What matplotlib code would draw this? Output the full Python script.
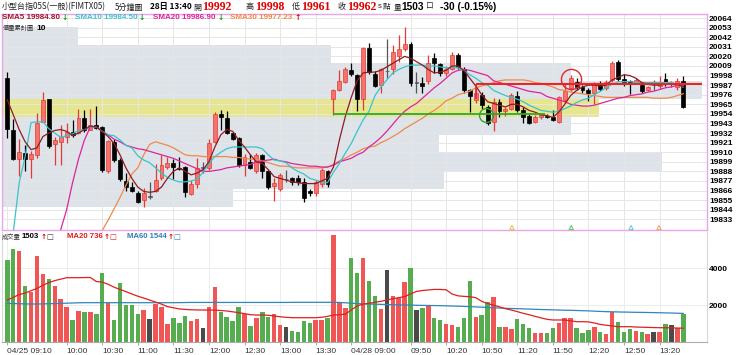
import numpy as np
import matplotlib
matplotlib.use("Agg")
import matplotlib.pyplot as plt

# ---- data (5 min bars, 04/25 09:10 .. 04/28 13:40) ----
opens = [19995, 19936, 19902, 19909, 19902, 19907, 19945, 19971, 19919, 19922,
         19928, 19933, 19932, 19949, 19936, 19941, 19939, 19888, 19922, 19901,
         19877, 19870, 19863, 19855, 19859, 19865, 19880, 19893, 19898, 19892,
         19893, 19862, 19874, 19892, 19892, 19922, 19954, 19949, 19932, 19926,
         19895, 19899, 19889, 19907, 19888, 19871, 19868, 19879, 19880, 19880,
         19876, 19866, 19863, 19873, 19888, 19971, 19981, 19991, 20004, 19999,
         19971, 20030, 20000, 19987, 20003, 20006, 20020, 20028, 20034, 19990,
         19990, 19992, 20018, 20011, 20001, 20006, 20022, 20006, 19981, 19970,
         19976, 19962, 19945, 19968, 19957, 19960, 19974, 19959, 19952, 19945,
         19950, 19952, 19951, 19945, 19970, 19984, 19991, 19985, 19981, 19978,
         19987, 19984, 19993, 20014, 19994, 19992, 19990, 19987, 19982, 19988,
         19986, 19994, 19988, 19985, 19992]
highs = [20002, 19948, 19925, 19918, 19911, 19955, 19979, 19971, 19928, 19941,
         19944, 19947, 19960, 19958, 19960, 19963, 19940, 19924, 19925, 19903,
         19886, 19876, 19866, 19869, 19876, 19897, 19907, 19905, 19902, 19905,
         19894, 19878, 19903, 19899, 19925, 19956, 19959, 19957, 19933, 19927,
         19908, 19908, 19909, 19908, 19890, 19880, 19886, 19890, 19882, 19884,
         19880, 19868, 19878, 19892, 19890, 19983, 20004, 20008, 20012, 20000,
         20031, 20035, 20003, 20007, 20040, 20033, 20045, 20054, 20036, 20002,
         19996, 20022, 20024, 20013, 20009, 20025, 20024, 20008, 19983, 19988,
         19979, 19964, 19972, 19971, 19962, 19978, 19980, 19962, 19954, 19953,
         19955, 19954, 19958, 19975, 19990, 19999, 19995, 19987, 19984, 19991,
         19992, 19993, 20015, 20016, 20000, 19993, 19995, 19989, 19986, 19993,
         19997, 20001, 19992, 19995, 19998]
lows = [19926, 19901, 19883, 19888, 19880, 19903, 19945, 19915, 19895, 19895,
        19921, 19928, 19931, 19933, 19935, 19937, 19887, 19886, 19899, 19877,
        19865, 19864, 19852, 19847, 19856, 19864, 19878, 19891, 19879, 19890,
        19859, 19861, 19869, 19886, 19890, 19921, 19936, 19931, 19924, 19893,
        19883, 19891, 19886, 19880, 19868, 19854, 19866, 19876, 19872, 19872,
        19853, 19860, 19860, 19870, 19870, 19953, 19980, 19990, 19998, 19957,
        19959, 20000, 19985, 19978, 19995, 20000, 20014, 20026, 19986, 19978,
        19978, 19988, 20001, 19997, 19998, 20004, 20006, 19978, 19956, 19967,
        19960, 19941, 19934, 19950, 19952, 19958, 19956, 19943, 19942, 19943,
        19948, 19949, 19946, 19944, 19968, 19980, 19982, 19978, 19969, 19965,
        19980, 19982, 19991, 19992, 19986, 19977, 19988, 19978, 19980, 19981,
        19983, 19986, 19985, 19982, 19961]
closes = [19937, 19902, 19910, 19902, 19908, 19943, 19970, 19917, 19924, 19928,
          19933, 19930, 19949, 19935, 19941, 19938, 19890, 19923, 19901, 19879,
          19870, 19865, 19853, 19863, 19859, 19878, 19895, 19898, 19893, 19891,
          19864, 19874, 19892, 19892, 19921, 19954, 19951, 19932, 19925, 19895,
          19904, 19892, 19907, 19888, 19870, 19875, 19884, 19879, 19876, 19876,
          19857, 19863, 19876, 19890, 19874, 19982, 19992, 20005, 20000, 19971,
          20030, 20002, 19986, 20006, 20003, 20025, 20028, 20034, 19989, 19990,
          19986, 20013, 20012, 20001, 20006, 20022, 20008, 19981, 19975, 19978,
          19964, 19943, 19968, 19957, 19960, 19976, 19958, 19951, 19944, 19951,
          19953, 19950, 19947, 19973, 19980, 19995, 19985, 19981, 19978, 19989,
          19983, 19991, 20013, 19994, 19991, 19990, 19993, 19980, 19985, 19988,
          19989, 19989, 19988, 19992, 19962]
volumes = [4453, 5052, 4943, 3036, 2725, 4671, 3706, 3400, 3036, 2327,
           1875, 1183, 1690, 1602, 1602, 1510, 3761, 2126, 1183, 3216,
           2000, 2000, 1510, 1727, 1237, 2038, 1908, 948, 1308, 1036,
           1401, 1145, 1254, 763, 1875, 2965, 1635, 1330, 1112, 1908,
           1493, 839, 1275, 1602, 1346, 1493, 910, 785, 583, 529,
           1128, 1036, 1166, 1183, 1275, 5815, 2180, 1820, 4578, 3728,
           4545, 3308, 2490, 1766, 3908, 2507, 2365, 3270, 4000, 1727,
           1853, 2000, 1308, 1166, 981, 910, 818, 1308, 3308, 1346,
           1455, 2147, 2453, 818, 818, 692, 1221, 981, 763, 458,
           458, 458, 730, 1003, 1275, 1275, 763, 458, 640, 818,
           545, 400, 1602, 1090, 545, 692, 583, 545, 400, 512,
           512, 964, 910, 763, 1503]

nan = np.nan
sma5 = [19970, 19953, 19936, 19922, 19913, 19915, 19928, 19932, 19935, 19936,
        19934, 19929, 19932, 19936, 19940, 19939, 19934, 19928, 19920, 19907,
        19892, 19880, 19870, 19865, 19864, 19865, 19870, 19880, 19888, 19892,
        19888, 19884, 19886, 19890, 19899, 19916, 19930, 19936, 19934, 19924,
        19916, 19907, 19899, 19897, 19890, 19882, 19880, 19878, 19876, 19875,
        19874, 19874, 19874, 19877, 19880, 19893, 19924, 19951, 19973, 19992,
        20001, 20002, 20002, 20004, 20008, 20012, 20016, 20020, 20018, 20014,
        20010, 20005, 20001, 20002, 20004, 20009, 20009, 20004, 19995, 19986,
        19976, 19968, 19966, 19964, 19962, 19965, 19965, 19962, 19958, 19956,
        19953, 19952, 19950, 19956, 19965, 19975, 19981, 19985, 19987, 19987,
        19986, 19987, 19993, 19996, 19999, 19998, 19995, 19990, 19988, 19987,
        19987, 19988, 19988, 19988, 19984.8]
sma10 = [19790, 19818, 19875, 19905, 19944, 19945, 19945, 19937, 19932, 19927,
         19929, 19931, 19935, 19936, 19939, 19939, 19934, 19930, 19929, 19924,
         19918, 19915, 19906, 19901, 19898, 19892, 19886, 19881, 19878, 19876,
         19876, 19877, 19879, 19887, 19897, 19905, 19910, 19914, 19916, 19916,
         19916, 19916, 19916, 19914, 19907, 19901, 19900, 19898, 19892, 19888,
         19885, 19880, 19878, 19876, 19875, 19887, 19897, 19909, 19920, 19934,
         19947, 19957, 19975, 19985, 19993, 20001, 20005, 20008, 20010, 20010,
         20010, 20009, 20009, 20008, 20007, 20007, 20007, 20004, 19999, 19995,
         19990, 19987, 19981, 19978, 19975, 19973, 19971, 19968, 19964, 19961,
         19958, 19957, 19956, 19957, 19960, 19963, 19967, 19970, 19972, 19976,
         19980, 19984, 19988, 19991, 19991, 19991, 19990, 19990, 19990, 19990,
         19990, 19990, 19990, 19988, 19984.5]
sma20 = [nan, nan, nan, nan, nan, nan, nan, nan, 19790, 19821,
         19844, 19875, 19902, 19924, 19939, 19939, 19934, 19930, 19925, 19922,
         19918, 19916, 19914, 19913, 19911, 19909, 19907, 19905, 19903, 19900,
         19897, 19894, 19891, 19888, 19888, 19889, 19890, 19892, 19893, 19894,
         19895, 19896, 19899, 19900, 19901, 19902, 19900, 19899, 19897, 19896,
         19895, 19894, 19894, 19893, 19893, 19895, 19899, 19901, 19903, 19907,
         19910, 19916, 19921, 19927, 19934, 19942, 19950, 19957, 19962, 19966,
         19972, 19978, 19984, 19989, 19995, 20001, 20004, 20005, 20004, 20002,
         20000, 19998, 19992, 19990, 19988, 19986, 19984, 19982, 19980, 19979,
         19978, 19974, 19972, 19970, 19968, 19965, 19964, 19963, 19963, 19964,
         19966, 19968, 19970, 19972, 19973, 19975, 19976, 19977, 19979, 19980,
         19982, 19984, 19985, 19987, 19986.9]
sma30 = [nan, nan, nan, nan, nan, nan, nan, nan, nan, nan,
         nan, nan, nan, nan, nan, nan, 19820, 19832, 19845, 19858,
         19872, 19885, 19892, 19907, 19919, 19922, 19920, 19918, 19915, 19911,
         19907, 19906, 19906, 19905, 19905, 19905, 19905, 19905, 19904, 19904,
         19903, 19902, 19902, 19900, 19898, 19896, 19894, 19894, 19893, 19892,
         19892, 19892, 19892, 19892, 19893, 19896, 19900, 19903, 19907, 19910,
         19914, 19916, 19917, 19921, 19924, 19928, 19932, 19937, 19941, 19945,
         19949, 19954, 19958, 19963, 19969, 19972, 19976, 19978, 19980, 19984,
         19986, 19988, 19990, 19992, 19993, 19993, 19993, 19993, 19992, 19990,
         19989, 19987, 19985, 19982, 19981, 19979, 19978, 19977, 19976, 19975,
         19974, 19973, 19973, 19973, 19973, 19973, 19973, 19973, 19973, 19972,
         19972, 19972, 19973, 19975, 19977.23]
vol_ma20 = [2273, 2420, 2570, 2650, 2780, 2900, 3080, 3220, 3330, 3410,
            3488, 3488, 3490, 3495, 3500, 3280, 3250, 3130, 2970, 2850,
            2730, 2600, 2480, 2380, 2270, 2160, 2050, 1910, 1850, 1785,
            1760, 1740, 1730, 1727, 1727, 1720, 1700, 1675, 1630, 1582,
            1530, 1470, 1455, 1455, 1440, 1400, 1360, 1330, 1310, 1308,
            1308, 1308, 1308, 1330, 1380, 1455, 1470, 1500, 1727, 1950,
            2050, 2093, 2150, 2200, 2273, 2340, 2400, 2460, 2600, 2740,
            2790, 2820, 2850, 2850, 2830, 2600, 2500, 2470, 2453, 2400,
            2200, 2080, 1990, 1900, 1800, 1727, 1640, 1548, 1470, 1380,
            1300, 1220, 1183, 1183, 1183, 1140, 1090, 1090, 1080, 1020,
            940, 900, 860, 818, 818, 818, 800, 790, 780, 770,
            763, 760, 755, 745, 736]
vol_ma60 = [2093, 2080, 2070, 2060, 2055, 2055, 2060, 2070, 2080, 2090,
            2100, 2110, 2120, 2126, 2126, 2126, 2126, 2126, 2126, 2126,
            2126, 2126, 2126, 2126, 2126, 2126, 2126, 2126, 2126, 2130,
            2135, 2140, 2140, 2140, 2140, 2140, 2140, 2140, 2140, 2140,
            2140, 2140, 2140, 2140, 2140, 2140, 2140, 2140, 2145, 2147,
            2147, 2147, 2147, 2147, 2147, 2147, 2140, 2120, 2100, 2080,
            2060, 2055, 2045, 2035, 2025, 2015, 2005, 2000, 1995, 1985,
            1980, 1975, 1970, 1962, 1955, 1945, 1935, 1925, 1908, 1895,
            1880, 1865, 1850, 1835, 1820, 1810, 1800, 1790, 1778, 1766,
            1755, 1745, 1735, 1725, 1715, 1711, 1700, 1690, 1680, 1665,
            1650, 1638, 1630, 1622, 1615, 1608, 1602, 1598, 1592, 1585,
            1578, 1570, 1562, 1553, 1544]

# volume-at-price profile ("價量累計圖 10"): 10 price bins, length in bars
profile_edges = [19847, 19868, 19889, 19909, 19930, 19951,
                 19971, 19992, 20013, 20033, 20054]
profile_len = [39.0, 74.6, 111.3, 73.7, 96.0, 100.7, 118.1, 96.0, 55.5, 12.8]

tick_pos = [0, 10, 16, 22, 28, 34, 40, 46, 52, 58, 68, 74, 80, 86, 92, 98, 104, 110]
tick_labels = ["04/25 09:10", "10:00", "10:30", "11:00", "11:30", "12:00", "12:30",
               "13:00", "13:30", "04/28 09:00", "09:50", "10:20", "10:50", "11:20",
               "11:50", "12:20", "12:50", "13:20"]
price_ticks = [20064, 20053, 20042, 20031, 20020, 20009, 19998, 19987, 19976, 19965,
               19954, 19943, 19932, 19921, 19910, 19899, 19888, 19877, 19866, 19855,
               19844, 19833]

# drawn annotations
support = (55, 90.7, 19953.5)       # green line: from bar, to bar, price
resist = (79, 117.2, 19988, 19971)  # red line: from bar, to bar, price, foot
green_ring = (80.7, 19952.7)
red_ring = (95.0, 19994)
signal_x = [85.1, 95.1, 105.2, 109.9]
signal_colors = ["#e2c23a", "#5cc45c", "#66cccc", "#f0a060"]

# ---- styling ----
W, H = 740, 355
CJK = ["Noto Sans CJK TC", "DejaVu Sans"]
SANS = "Liberation Sans"
PINK = "#e9a6e9"
RED_FILL, RED_EDGE = "#f4736d", "#e23b34"
GREEN_V, RED_V, GRAY_V = "#56ad4f", "#f05656", "#4a4a4a"

fig = plt.figure(figsize=(W / 100, H / 100), dpi=100)


def fx(px):
    return px / W


def fy(py):
    return 1 - py / H


ax = fig.add_axes([fx(2), fy(230), fx(705), (230 - 14) / H])
axv = fig.add_axes([fx(2), fy(341.7), fx(705), (341.7 - 232) / H])

x = np.arange(len(closes))
o, hi, lo, c = map(np.array, (opens, highs, lows, closes))
up, down = c > o, c < o

# profile bands behind everything
edges = np.array(profile_edges)
cur_bin = np.searchsorted(edges, c[-1]) - 1
band_cols = ["#e6e68e" if i == cur_bin else "#dde3e8" for i in range(len(profile_len))]
x0 = -0.9
ax.barh(edges[:-1], profile_len, left=x0, height=np.diff(edges), align="edge",
        color=band_cols, zorder=0.2, lw=0)

# candles
body_col = np.where(up, RED_FILL, np.where(down, "black", "#555555"))
edge_col = np.where(up, RED_EDGE, np.where(down, "black", "#555555"))
ax.vlines(x, lo, hi, colors=edge_col, lw=0.9, zorder=3)
ax.bar(x, np.maximum(np.abs(c - o), 0.7), bottom=np.minimum(o, c), width=0.66,
       color=body_col, edgecolor=edge_col, lw=0.5, zorder=4)

# moving averages
ax.plot(x, sma30, color="#ef8a4c", lw=0.9, zorder=5)
ax.plot(x, sma20, color="#de249c", lw=0.9, zorder=5)
ax.plot(x, sma10, color="#38c4cc", lw=0.9, zorder=5)
ax.plot(x, sma5, color="#8e1c22", lw=0.9, zorder=6)

# support / resistance marks
ax.hlines(support[2], support[0], support[1], color="#2ea82e", lw=1.3, zorder=7)
ax.hlines(resist[2], resist[0], resist[1], color="#e8262a", lw=1.5, zorder=7)
ax.vlines(resist[0], resist[3], resist[2], color="#e8262a", lw=1.2, zorder=7)
ax.plot(*green_ring, "o", ms=10, mfc="none", mec="#2ea82e", mew=1.0, zorder=8)
ax.plot(*red_ring, "o", ms=14.5, mfc="none", mec="#e8262a", mew=1.0, zorder=8)
ax.scatter(signal_x, [19823.5] * len(signal_x), marker="^", s=9, facecolors="none",
           edgecolors=signal_colors, lw=0.7, zorder=8, clip_on=False)

ax.set_xlim(x0, 118.0)
ax.set_ylim(19820.7, 20068.7)
ax.set_xticks(tick_pos)
ax.set_yticks(price_ticks)
ax.set_axisbelow(True)
ax.grid(True, color="#e6e6e6", lw=0.7)
ax.yaxis.tick_right()
ax.tick_params(axis="x", length=0, labelbottom=False)
ax.tick_params(axis="y", length=0, pad=1.5, labelsize=6)
for t in ax.get_yticklabels():
    t.set_fontfamily(SANS)
    t.set_fontweight("bold")
for s in ax.spines.values():
    s.set_color(PINK)
    s.set_linewidth(1.0)

# volume panel
vol_col = np.where(up, RED_V, np.where(down, GREEN_V, GRAY_V))
axv.bar(x, volumes, width=0.75, color=vol_col, zorder=2)
axv.plot(x, vol_ma60, color="#2f86b8", lw=0.9, zorder=3)
axv.plot(x, vol_ma20, color="#e01f1f", lw=0.9, zorder=3)
axv.set_xlim(x0, 118.0)
axv.set_ylim(0, 5979)
axv.set_yticks([2000, 4000])
axv.set_axisbelow(True)
axv.grid(True, color="#ececec", lw=0.7)
axv.yaxis.tick_right()
axv.tick_params(axis="y", length=0, pad=1.5, labelsize=6)
for t in axv.get_yticklabels():
    t.set_fontfamily(SANS)
    t.set_fontweight("bold")
axv.set_xticks(tick_pos, tick_labels)
axv.tick_params(axis="x", length=2.5, width=0.6, color="#999999", pad=2,
                labelsize=6, labelcolor="#333333")
for t in axv.get_xticklabels():
    t.set_ha("left")
    t.set_fontfamily(SANS)
axv.spines["top"].set_visible(False)
axv.spines["left"].set_color("#d8d8d8")
axv.spines["right"].set_color("#d8d8d8")
axv.spines["bottom"].set_color("#aaaaaa")

# ---- header texts ----
def put(px, py, s, color="#222222", size=6, weight="normal", family=SANS):
    fig.text(fx(px), fy(py), s, color=color, fontsize=size, fontweight=weight,
             family=family, va="center", ha="left")


ARROW = "DejaVu Sans"
hy = 7
put(2, hy, "小型台指05S(一般)(FIMTX05)", size=5.8, family=CJK)
put(115, hy, "5分鐘圖", size=5.8, family=CJK)
put(150, hy, "28日 13:40", color="black", size=5.9, weight="bold", family=CJK)
for lx, lab, val in [(193, "開", "19992"), (246, "高", "19998"),
                     (292, "低", "19961"), (338, "收", "19962")]:
    put(lx, hy, lab, size=5.8, family=CJK)
    put(lx + 9, hy, val, color="#e00000", size=8.5, weight="bold",
        family="Liberation Serif")
put(378, hy, "s", size=5.5)
put(383, hy, "點", size=5.5, family=CJK)
put(394, hy, "量", size=5.5, family=CJK)
put(401, hy, "1503", color="black", size=7.3, weight="bold")
put(426, hy, "口", size=5.5, family=CJK)
put(440, hy, "-30 (-0.15%)", color="black", size=7.3, weight="bold")

ly = 17.5
put(2, ly, "SMA5 19984.80", color="#a3162b", size=5.8, weight="bold")
put(62, ly, "↓", color="#1a9a1a", size=5.5, weight="bold", family=ARROW)
put(75, ly, "SMA10 19984.50", color="#3cc3d3", size=5.8, weight="bold")
put(139, ly, "↓", color="#1a9a1a", size=5.5, weight="bold", family=ARROW)
put(153, ly, "SMA20 19986.90", color="#d9279e", size=5.8, weight="bold")
put(218, ly, "↓", color="#1a9a1a", size=5.5, weight="bold", family=ARROW)
put(230, ly, "SMA30 19977.23", color="#f0894a", size=5.8, weight="bold")
put(295, ly, "↑", color="#e00000", size=5.5, weight="bold", family=ARROW)

put(3, 28, "價量累計圖", color="#333333", size=4.5, family=CJK)
put(36, 28, "10", color="black", size=6, weight="bold")

vy = 237
put(2, vy, "成交量", color="#333333", size=4.5, family=CJK)
put(22, vy, "1503", color="black", size=5.6, weight="bold")
put(41, vy, "↑", color="#e00000", size=5.2, weight="bold", family=ARROW)
put(46, vy, "□", color="#333333", size=5.2, family=ARROW)
put(67, vy, "MA20 736", color="#e01f1f", size=5.6, weight="bold")
put(104, vy, "↑", color="#e00000", size=5.2, weight="bold", family=ARROW)
put(109, vy, "□", color="#e01f1f", size=5.2, family=ARROW)
put(127, vy, "MA60 1544", color="#2f7fb8", size=5.6, weight="bold")
put(168, vy, "↑", color="#e00000", size=5.2, weight="bold", family=ARROW)
put(173, vy, "□", color="#2f7fb8", size=5.2, family=ARROW)

fig.savefig("out.png", dpi=100)
